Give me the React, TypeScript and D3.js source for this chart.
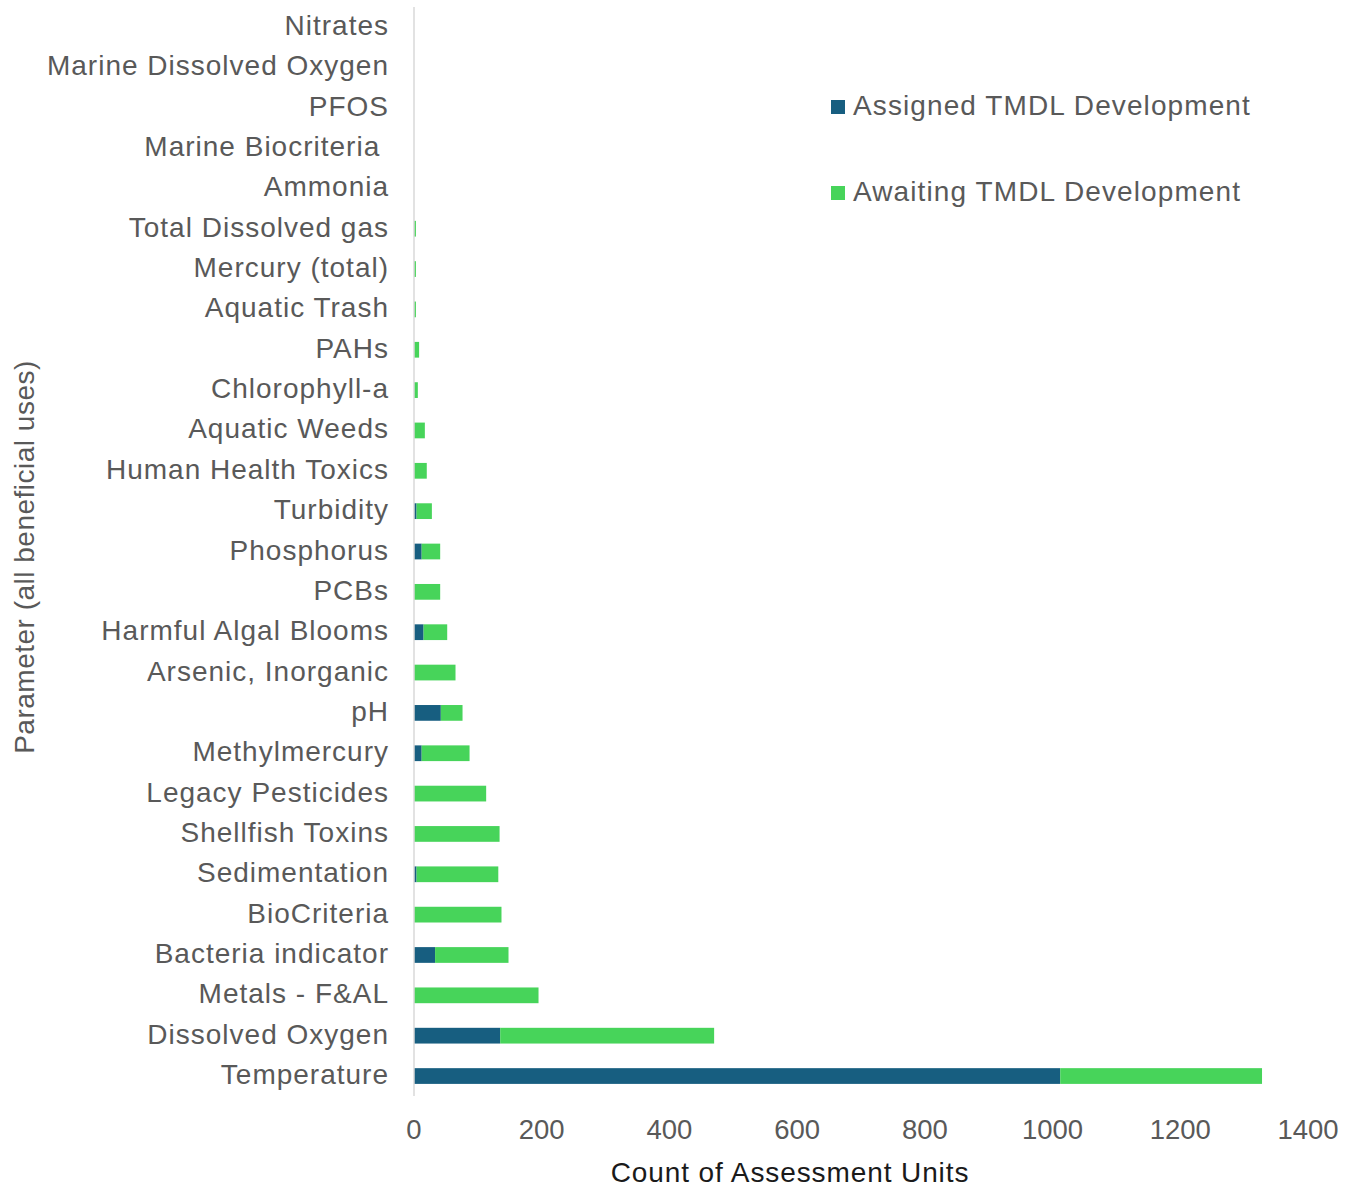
import React from "react";
import * as d3 from "d3";

const categories = [
  "Nitrates",
  "Marine Dissolved Oxygen",
  "PFOS",
  "Marine Biocriteria ",
  "Ammonia",
  "Total Dissolved gas",
  "Mercury (total)",
  "Aquatic Trash",
  "PAHs",
  "Chlorophyll-a",
  "Aquatic Weeds",
  "Human Health Toxics",
  "Turbidity",
  "Phosphorus",
  "PCBs",
  "Harmful Algal Blooms",
  "Arsenic, Inorganic",
  "pH",
  "Methylmercury",
  "Legacy Pesticides",
  "Shellfish Toxins",
  "Sedimentation",
  "BioCriteria",
  "Bacteria indicator",
  "Metals - F&AL",
  "Dissolved Oxygen",
  "Temperature",
];

const assigned = [0, 0, 0, 0, 0, 0, 0, 0, 0, 0, 0, 0, 4, 12, 0, 15, 0, 42, 12, 0, 0, 4, 0, 33, 0, 135, 1012];
const awaiting = [0, 0, 0, 0, 0, 3, 3, 3, 8, 6, 17, 20, 24, 29, 41, 37, 65, 34, 75, 113, 134, 128, 137, 115, 195, 335, 316];

const xTicks = [0, 200, 400, 600, 800, 1000, 1200, 1400];
const seriesNames = ["Assigned TMDL Development", "Awaiting TMDL Development"];
const seriesColors = ["#175E80", "#47D45A"];

export default function App() {
  const W = 1352;
  const H = 1187;
  const left = 414;
  const right = 1308;
  const top = 7;
  const bottom = 1096;

  const x = d3.scaleLinear().domain([0, 1400]).range([left, right]);
  const y = d3.scaleBand().domain(categories).range([top, bottom]).paddingInner(0.61).paddingOuter(0.3);

  const rows = categories.map((c, i) => ({ cat: c, assigned: assigned[i], awaiting: awaiting[i] }));
  const stack = d3.stack<any>().keys(["assigned", "awaiting"])(rows);

  const font = "'Liberation Sans', Arial, sans-serif";
  const gray = "#595959";
  const fs = 28;
  const ls = 1;

  return (
    <svg width={W} height={H} style={{ position: "absolute", left: 0, top: 0, background: "#fff" }} fontFamily={font}>
      <rect x={0} y={0} width={W} height={H} fill="#fff" />
      {stack.map((s, si) =>
        s.map((d, i) =>
          d[1] - d[0] > 0 ? (
            <rect
              key={`${si}-${i}`}
              x={x(d[0])}
              y={y(categories[i])!}
              width={x(d[1]) - x(d[0])}
              height={y.bandwidth()}
              fill={seriesColors[si]}
            />
          ) : null
        )
      )}
      <line x1={left} x2={left} y1={top} y2={bottom} stroke="#d9d9d9" strokeWidth={1.5} />
      {categories.map((c) => (
        <text
          key={c}
          x={389}
          y={y(c)! + y.bandwidth() / 2 - 1.5}
          textAnchor="end"
          dominantBaseline="central"
          fontSize={fs}
          letterSpacing={ls}
          fill={gray}
          style={{ whiteSpace: "pre" }}
        >
          {c}
        </text>
      ))}
      {xTicks.map((t) => (
        <text key={t} x={x(t)} y={1129} textAnchor="middle" dominantBaseline="central" fontSize={27.5} fill={gray}>
          {t}
        </text>
      ))}
      <text x={790} y={1172} textAnchor="middle" dominantBaseline="central" fontSize={fs} letterSpacing={0.9} fill="#1a1a1a">
        Count of Assessment Units
      </text>
      <text
        transform={`translate(24,557) rotate(-90)`}
        textAnchor="middle"
        dominantBaseline="central"
        fontSize={fs}
        letterSpacing={0.5}
        fill={gray}
      >
        Parameter (all beneficial uses)
      </text>
      {seriesNames.map((n, i) => (
        <g key={n} transform={`translate(831,${106 + i * 86})`}>
          <rect x={0} y={-6} width={14} height={14} fill={seriesColors[i]} />
          <text x={22} y={-1} dominantBaseline="central" fontSize={fs} letterSpacing={1.1} fill={gray}>
            {n}
          </text>
        </g>
      ))}
    </svg>
  );
}
